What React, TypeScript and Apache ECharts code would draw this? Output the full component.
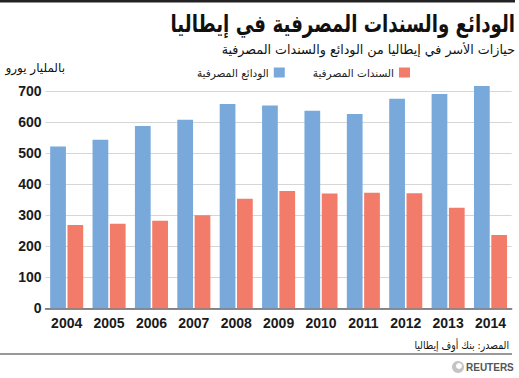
import React, { useEffect, useRef } from 'react';
import * as echarts from 'echarts';

const years = ['2004', '2005', '2006', '2007', '2008', '2009', '2010', '2011', '2012', '2013', '2014'];
const deposits = [521, 543, 587, 607, 658, 653, 636, 626, 675, 690, 716];
const bonds = [268, 272, 282, 300, 353, 378, 370, 372, 371, 324, 236];
const depositsName = 'الودائع المصرفية';
const bondsName = 'السندات المصرفية';
const titleText = 'الودائع والسندات المصرفية في إيطاليا';
const subtitleText = 'حيازات الأسر في إيطاليا من الودائع والسندات المصرفية';
const unitText = 'بالمليار يورو';
const sourceText = 'المصدر: بنك أوف إيطاليا';

const BLUE = '#79a9db';
const RED = '#f37b69';
const AR_FONT = 'DejaVu Sans, sans-serif';
const NUM_FONT = 'Liberation Sans, Arial, sans-serif';

export default function App() {
  const ref = useRef<HTMLDivElement>(null);
  useEffect(() => {
    document.documentElement.style.overflow = 'hidden';
    document.body.style.margin = '0';
    document.body.style.overflow = 'hidden';
    if (!ref.current) return;
    const chart = echarts.init(ref.current, undefined, { renderer: 'svg' });
    chart.setOption({
      animation: false,
      backgroundColor: '#ffffff',
      grid: { left: 45.5, right: 7.3, top: 91, bottom: 69.7, containLabel: false },
      legend: {
        data: [depositsName, bondsName],
        top: 62,
        right: 104,
        align: 'right',
        icon: 'rect',
        itemWidth: 11,
        itemHeight: 10,
        itemGap: 28,
        textStyle: { fontSize: 10.5, color: '#222', fontFamily: AR_FONT },
      },
      xAxis: {
        type: 'category',
        data: years,
        axisTick: { show: false },
        axisLine: { lineStyle: { color: '#666', width: 1.5 } },
        axisLabel: { fontSize: 14, fontWeight: 'bold', color: '#1a1a1a', margin: 8, fontFamily: NUM_FONT },
      },
      yAxis: {
        type: 'value',
        min: 0,
        max: 700,
        interval: 100,
        axisLine: { show: false },
        axisTick: { show: false },
        axisLabel: { fontSize: 14, fontWeight: 'bold', color: '#1a1a1a', margin: 4, fontFamily: NUM_FONT },
        splitLine: { lineStyle: { color: '#d6d6d6', width: 1 } },
      },
      series: [
        {
          name: depositsName,
          type: 'bar',
          data: deposits,
          clip: false,
          itemStyle: { color: BLUE },
          barGap: '10%',
          barCategoryGap: '22%',
        },
        {
          name: bondsName,
          type: 'bar',
          data: bonds,
          clip: false,
          itemStyle: { color: RED },
        },
      ],
      graphic: [
        { type: 'rect', shape: { x: 0, y: 0, width: 515, height: 2.5 }, style: { fill: '#222' } },
        {
          type: 'text',
          x: 515,
          y: 24,
          scaleX: 0.76,
          style: { text: titleText, textAlign: 'right', textVerticalAlign: 'middle', font: 'bold 24px ' + AR_FONT, fill: '#111' },
        },
        {
          type: 'text',
          x: 515,
          y: 49,
          style: { text: subtitleText, textAlign: 'right', textVerticalAlign: 'middle', font: '12.7px ' + AR_FONT, fill: '#111' },
        },
        {
          type: 'text',
          x: 65,
          y: 68,
          style: { text: unitText, textAlign: 'right', textVerticalAlign: 'middle', font: '12px ' + AR_FONT, fill: '#111' },
        },
        {
          type: 'text',
          x: 509,
          y: 345,
          scaleX: 0.85,
          style: { text: sourceText, textAlign: 'right', textVerticalAlign: 'middle', font: '11px ' + AR_FONT, fill: '#111' },
        },
        { type: 'line', shape: { x1: 0, y1: 354, x2: 512, y2: 354 }, style: { stroke: '#777', lineWidth: 1.5 } },
        { type: 'circle', shape: { cx: 458, cy: 367, r: 6 }, style: { fill: '#c4c4c4' } },
        { type: 'circle', shape: { cx: 459, cy: 366, r: 3 }, style: { fill: '#ffffff' } },
        {
          type: 'text',
          x: 466,
          y: 367,
          style: { text: 'REUTERS', textAlign: 'left', textVerticalAlign: 'middle', font: 'bold 10px ' + NUM_FONT, fill: '#555' },
        },
      ],
    });
    return () => chart.dispose();
  }, []);
  return <div ref={ref} style={{ position: 'fixed', left: 0, top: 0, width: 519, height: 378 }} />;
}
